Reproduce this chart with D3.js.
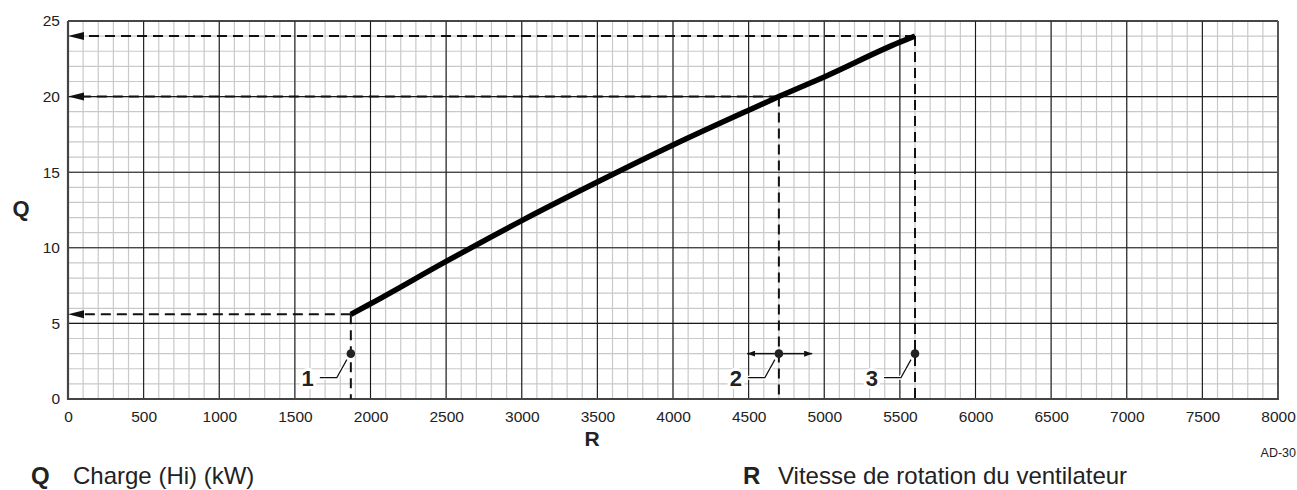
<!DOCTYPE html>
<html>
<head>
<meta charset="utf-8">
<script src="https://cdn.jsdelivr.net/npm/d3@7/dist/d3.min.js"></script>
<style>
  html, body { margin: 0; padding: 0; background: #fff; }
  svg { display: block; font-family: "Liberation Sans", Arial, Helvetica, sans-serif; }
</style>
</head>
<body>
<svg id="chart" width="1297" height="490"></svg>
<script>
// Fan speed (rpm) vs. heat input curve
const rpm    = [1870, 2000, 2500, 3000, 3500, 4000, 4500, 4700, 5000, 5500, 5600];
const charge = [5.6, 6.3, 9.1, 11.8, 14.35, 16.8, 19.1, 20.0, 21.3, 23.6, 24.0];

// Reference operating points (minimum, start, maximum)
const refIds    = ["1", "2", "3"];
const refRpm    = [1870, 4700, 5600];
const refCharge = [5.6, 20, 24];
const refDotQ   = 3;
// start point can be moved within this range
const rangeRpm  = [4490, 4920];

const xTicks = [0, 500, 1000, 1500, 2000, 2500, 3000, 3500, 4000, 4500, 5000, 5500, 6000, 6500, 7000, 7500, 8000];
const yTicks = [0, 5, 10, 15, 20, 25];
const xMinor = d3.range(0, 8001, 100);
const yMinor = d3.range(0, 26, 1);

const svg = d3.select("#chart");
const pLeft = 68, pRight = 1278, pTop = 21, pBottom = 399;

const x = d3.scaleLinear().domain([0, 8000]).range([pLeft, pRight]);
const y = d3.scaleLinear().domain([0, 25]).range([pBottom, pTop]);

// minor grid
const grid = svg.append("g");
grid.selectAll(".vmin").data(xMinor).join("line")
  .attr("x1", d => x(d)).attr("x2", d => x(d))
  .attr("y1", pTop).attr("y2", pBottom)
  .attr("stroke", "#c9c9c9").attr("stroke-width", 1.2);
grid.selectAll(".hmin").data(yMinor).join("line")
  .attr("y1", d => y(d)).attr("y2", d => y(d))
  .attr("x1", pLeft).attr("x2", pRight)
  .attr("stroke", "#c9c9c9").attr("stroke-width", 1.2);

// major grid
grid.selectAll(".vmaj").data(xTicks).join("line")
  .attr("x1", d => x(d)).attr("x2", d => x(d))
  .attr("y1", pTop).attr("y2", pBottom)
  .attr("stroke", "#1a1a1a").attr("stroke-width", 1.1);
grid.selectAll(".hmaj").data(yTicks).join("line")
  .attr("y1", d => y(d)).attr("y2", d => y(d))
  .attr("x1", pLeft).attr("x2", pRight)
  .attr("stroke", "#1a1a1a").attr("stroke-width", 1.1);

// frame
svg.append("line").attr("x1", pLeft).attr("x2", pRight).attr("y1", pTop).attr("y2", pTop)
  .attr("stroke", "#333").attr("stroke-width", 1.6);
svg.append("line").attr("x1", pRight).attr("x2", pRight).attr("y1", pTop).attr("y2", pBottom)
  .attr("stroke", "#555").attr("stroke-width", 2);
svg.append("line").attr("x1", pLeft).attr("x2", pLeft).attr("y1", pTop).attr("y2", pBottom + 1)
  .attr("stroke", "#444").attr("stroke-width", 2.2);
svg.append("line").attr("x1", pLeft - 1).attr("x2", pRight + 1).attr("y1", pBottom).attr("y2", pBottom)
  .attr("stroke", "#444").attr("stroke-width", 2.2);

// tick labels
const xAxis = svg.append("g").attr("transform", `translate(0,${pBottom})`)
  .call(d3.axisBottom(x).tickValues(xTicks).tickSize(0).tickPadding(12).tickFormat(d3.format("d")));
const yAxis = svg.append("g").attr("transform", `translate(${pLeft},0)`)
  .call(d3.axisLeft(y).tickValues(yTicks).tickSize(0).tickPadding(8).tickFormat(d3.format("d")));
[xAxis, yAxis].forEach(a => {
  a.select(".domain").remove();
  a.selectAll("text").attr("font-size", 15.5).attr("fill", "#222")
    .attr("font-family", "'Liberation Sans', Arial, sans-serif");
});

// small arrowhead
const defs = svg.append("defs");
defs.append("marker").attr("id", "arrowSmall")
  .attr("viewBox", "0 0 8 6").attr("refX", 8).attr("refY", 3)
  .attr("markerWidth", 8).attr("markerHeight", 6).attr("markerUnits", "userSpaceOnUse")
  .attr("orient", "auto")
  .append("path").attr("d", "M0,0 L8,3 L0,6 Z").attr("fill", "#111");

// dashed projection lines
const proj = svg.append("g");
refRpm.forEach((r, i) => {
  const py = y(refCharge[i]);
  proj.append("line")
    .attr("x1", x(r)).attr("y1", py)
    .attr("x2", x(0) + 14).attr("y2", py)
    .attr("stroke", "#111").attr("stroke-width", 2).attr("stroke-dasharray", "10,6");
  proj.append("path")
    .attr("d", `M${x(0)},${py} L${x(0) + 16},${py - 4} L${x(0) + 16},${py + 4} Z`)
    .attr("fill", "#111");
  proj.append("line")
    .attr("x1", x(r)).attr("y1", py)
    .attr("x2", x(r)).attr("y2", y(0))
    .attr("stroke", "#111").attr("stroke-width", 2).attr("stroke-dasharray", "10,6");
});

// curve
const line = d3.line().x((d, i) => x(rpm[i])).y((d, i) => y(charge[i])).curve(d3.curveMonotoneX);
svg.append("path").datum(charge)
  .attr("d", line)
  .attr("fill", "none").attr("stroke", "#000").attr("stroke-width", 5.5)
  .attr("stroke-linecap", "butt");

// range arrows around point 2
const dy2 = y(refDotQ);
svg.append("line").attr("x1", x(refRpm[1]) - 4).attr("x2", x(rangeRpm[0]))
  .attr("y1", dy2).attr("y2", dy2).attr("stroke", "#111").attr("stroke-width", 1.5)
  .attr("marker-end", "url(#arrowSmall)");
svg.append("line").attr("x1", x(refRpm[1]) + 4).attr("x2", x(rangeRpm[1]))
  .attr("y1", dy2).attr("y2", dy2).attr("stroke", "#111").attr("stroke-width", 1.5)
  .attr("marker-end", "url(#arrowSmall)");

// reference markers with leader lines
const marks = svg.append("g");
refRpm.forEach((r, i) => {
  const cx = x(r), cy = y(refDotQ);
  const lx = cx - 14, ly = cy + 24;
  const leader = `M${cx - 4},${cy + 6} L${lx},${ly} L${lx - 17},${ly}`;
  marks.append("path").attr("d", leader)
    .attr("fill", "none").attr("stroke", "#fff").attr("stroke-width", 4);
  marks.append("path").attr("d", leader)
    .attr("fill", "none").attr("stroke", "#111").attr("stroke-width", 1.2);
  marks.append("circle").attr("cx", cx).attr("cy", cy).attr("r", 4.3).attr("fill", "#222");
  marks.append("text")
    .attr("x", lx - 23).attr("y", ly + 8)
    .attr("text-anchor", "end")
    .attr("font-size", 22).attr("font-weight", "bold").attr("fill", "#222")
    .attr("stroke", "#fff").attr("stroke-width", 6).attr("paint-order", "stroke")
    .attr("stroke-linejoin", "round")
    .text(refIds[i]);
});

// axis letters
svg.append("text").attr("x", 21).attr("y", 216).attr("text-anchor", "middle")
  .attr("font-size", 22).attr("font-weight", "bold").attr("fill", "#222").text("Q");
svg.append("text").attr("x", 592).attr("y", 446).attr("text-anchor", "middle")
  .attr("font-size", 21).attr("font-weight", "bold").attr("fill", "#222").text("R");

// drawing reference
svg.append("text").attr("x", 1296).attr("y", 457).attr("text-anchor", "end")
  .attr("font-size", 12.5).attr("fill", "#222").text("AD-30");

// legend
svg.append("text").attr("x", 31).attr("y", 484).attr("font-size", 24).attr("font-weight", "bold")
  .attr("fill", "#222").text("Q");
svg.append("text").attr("x", 73).attr("y", 484).attr("font-size", 24)
  .attr("fill", "#222").text("Charge (Hi) (kW)");
svg.append("text").attr("x", 743).attr("y", 484).attr("font-size", 24).attr("font-weight", "bold")
  .attr("fill", "#222").text("R");
svg.append("text").attr("x", 778).attr("y", 484).attr("font-size", 24)
  .attr("fill", "#222").text("Vitesse de rotation du ventilateur");
</script>
</body>
</html>
